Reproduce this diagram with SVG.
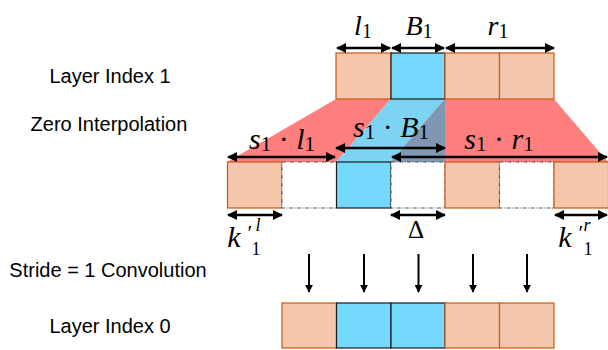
<svg xmlns="http://www.w3.org/2000/svg" width="608" height="350" viewBox="0 0 608 350">
<defs>
<marker id="ah" viewBox="0 0 10 10" refX="9" refY="5" markerWidth="4.2" markerHeight="4" orient="auto-start-reverse" markerUnits="strokeWidth">
<path d="M0,0 L10,5 L0,10 z" fill="#000"/>
</marker>
<style>
.lbl{font-family:"Liberation Sans",Arial,sans-serif;font-size:20px;fill:#000;text-anchor:middle}
.m{font-family:"Liberation Serif","DejaVu Serif",serif;fill:#000;text-anchor:middle}
.i{font-style:italic}
.pe{fill:#F4C6AB;stroke:#C55A11;stroke-width:1.2}
.bl{fill:#74D9FC;stroke:#1a1a1a;stroke-width:1.2}
.wh{fill:#fff;stroke:#555;stroke-width:1;stroke-dasharray:4 1.5 1 1.5}
.dim{stroke:#000;stroke-width:2.5;fill:none;marker-start:url(#ah);marker-end:url(#ah)}
.dn{stroke:#000;stroke-width:2;fill:none;marker-end:url(#ah)}
</style>
</defs>

<g id="labels">
<text class="lbl" x="110" y="83">Layer Index 1</text>
<text class="lbl" x="109" y="131">Zero Interpolation</text>
<text class="lbl" x="108" y="277">Stride = 1 Convolution</text>
<text class="lbl" x="110" y="333">Layer Index 0</text>
</g>

<g id="projection">
<polygon points="336,99 391,99 336,162 227,162" fill="#FF7F7F"/>
<polygon points="391,99 445,99 445,162 336,162" fill="#7DD4F2"/>
<polygon points="445,99 554,99 608,162 391,162" fill="#FF7F7F"/>
<polygon points="445,99 445,162 391,162" fill="#7F97B2"/>
</g>

<g id="layer1">
<rect class="pe" x="336" y="53" width="55" height="46"/>
<rect class="bl" x="391" y="53" width="54" height="46"/>
<rect class="pe" x="445" y="53" width="54.5" height="46"/>
<rect class="pe" x="499.5" y="53" width="54.5" height="46"/>
</g>

<g id="interp">
<rect class="pe" x="227.5" y="162" width="54.5" height="46"/>
<rect class="wh" x="282" y="162" width="54.5" height="46"/>
<rect class="bl" x="336.5" y="162" width="54.5" height="46"/>
<rect class="wh" x="391" y="162" width="54" height="46"/>
<rect class="pe" x="445" y="162" width="54.5" height="46"/>
<rect class="wh" x="499.5" y="162" width="54.5" height="46"/>
<rect class="pe" x="554" y="162" width="54.5" height="46"/>
</g>

<g id="layer0">
<rect class="pe" x="282" y="303" width="54.5" height="45"/>
<rect class="bl" x="336.5" y="303" width="54.5" height="45"/>
<rect class="bl" x="391" y="303" width="54" height="45"/>
<rect class="pe" x="445" y="303" width="54.5" height="45"/>
<rect class="pe" x="499.5" y="303" width="54.5" height="45"/>
</g>

<g id="connectors">
<line class="dim" x1="337" y1="48" x2="390" y2="48"/>
<line class="dim" x1="392" y1="48" x2="444" y2="48"/>
<line class="dim" x1="446" y1="48" x2="554" y2="48"/>
<line class="dim" x1="228" y1="157" x2="335" y2="157"/>
<line class="dim" x1="336" y1="148" x2="445" y2="148"/>
<line class="dim" x1="392" y1="157" x2="607" y2="157"/>
<line class="dim" x1="228" y1="215" x2="282" y2="215"/>
<line class="dim" x1="391" y1="215" x2="445" y2="215"/>
<line class="dim" x1="555" y1="215" x2="607" y2="215"/>
<line class="dn" x1="309" y1="254" x2="309" y2="292"/>
<line class="dn" x1="364" y1="254" x2="364" y2="292"/>
<line class="dn" x1="418.5" y1="254" x2="418.5" y2="292"/>
<line class="dn" x1="473" y1="254" x2="473" y2="292"/>
<line class="dn" x1="527" y1="254" x2="527" y2="292"/>
</g>

<g id="math">
<text class="m" x="363" y="35" font-size="28"><tspan class="i">l</tspan><tspan font-size="20" dy="3">1</tspan></text>
<text class="m" x="419" y="35" font-size="28"><tspan class="i">B</tspan><tspan font-size="20" dy="3">1</tspan></text>
<text class="m" x="498" y="35" font-size="28"><tspan class="i">r</tspan><tspan font-size="20" dy="3">1</tspan></text>
<text class="m" x="282" y="149" font-size="30"><tspan class="i">s</tspan><tspan font-size="21" dy="2">1</tspan><tspan dy="-2"> · </tspan><tspan class="i">l</tspan><tspan font-size="21" dy="2">1</tspan></text>
<text class="m" x="391" y="137" font-size="30"><tspan class="i">s</tspan><tspan font-size="21" dy="2">1</tspan><tspan dy="-2"> · </tspan><tspan class="i">B</tspan><tspan font-size="21" dy="2">1</tspan></text>
<text class="m" x="499" y="149" font-size="30"><tspan class="i">s</tspan><tspan font-size="21" dy="2">1</tspan><tspan dy="-2"> · </tspan><tspan class="i">r</tspan><tspan font-size="21" dy="2">1</tspan></text>
<text class="m" x="416" y="238" font-size="25">Δ</text>
<text class="m" font-size="30" text-anchor="start"><tspan class="i" x="234" y="247">k</tspan><tspan x="250" y="240" font-size="22">′</tspan><tspan class="i" x="258" y="231" font-size="18">l</tspan><tspan x="256" y="255" font-size="18">1</tspan></text>
<text class="m" font-size="30" text-anchor="start"><tspan class="i" x="565" y="247">k</tspan><tspan x="581" y="240" font-size="22">′</tspan><tspan class="i" x="587" y="231" font-size="18">r</tspan><tspan x="588" y="255" font-size="18">1</tspan></text>
</g>
</svg>
